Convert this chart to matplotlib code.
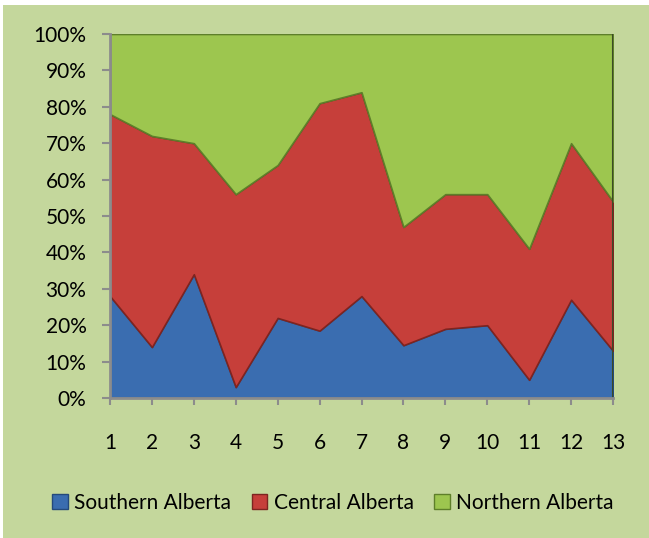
import matplotlib
matplotlib.use("Agg")
import matplotlib.pyplot as plt
import numpy as np
from matplotlib.patches import Patch, Rectangle

plt.rcParams["font.family"] = ["Lato", "DejaVu Sans"]

# share of each region per period, in percent
periods = list(range(1, 14))
southern = [28, 14, 34, 3, 22, 18.5, 28, 14.5, 19, 20, 5, 27, 13]
central = [50, 58, 36, 53, 42, 62.5, 56, 32.5, 37, 36, 36, 43, 41]
northern = [22, 28, 30, 44, 36, 19, 16, 53, 44, 44, 59, 30, 46]
series_names = ["Southern Alberta", "Central Alberta", "Northern Alberta"]

face_colors = ["#3a6db0", "#c63f3a", "#9dc64f"]
edge_colors = ["#244a7c", "#7e2420", "#5e7f2a"]
bg_color = "#c4d79c"

fig = plt.figure(figsize=(6.49, 5.38), dpi=100)
fig.patch.set_facecolor("white")
fig.add_artist(Rectangle((3 / 649, 0), 1, 1 - 5 / 538, transform=fig.transFigure,
                         facecolor=bg_color, edgecolor="none", zorder=0))

ax = fig.add_axes([110 / 649, 1 - 398 / 538, 503 / 649, 364 / 538])
ax.set_facecolor("none")

values = np.array([southern, central, northern], dtype=float)
shares = values / values.sum(axis=0) * 100
bottom = np.zeros(len(periods))
for share, fc, ec in zip(shares, face_colors, edge_colors):
    top = bottom + share
    ax.fill_between(periods, bottom, top, facecolor=fc, edgecolor=ec, linewidth=1.2, zorder=2)
    bottom = top

# dark edge on the right side of the stack
ax.axvline(13, color="#3c4a28", linewidth=1.5, zorder=3)

ax.set_xlim(1, 13)
ax.set_ylim(0, 100)
ax.set_xticks(periods)
ax.set_yticks(range(0, 101, 10))
ax.set_yticklabels([f"{v}%" for v in range(0, 101, 10)])

for side in ["top", "right"]:
    ax.spines[side].set_visible(False)
for side in ["left", "bottom"]:
    ax.spines[side].set_color("#8c8c8c")
    ax.spines[side].set_linewidth(2)
    ax.spines[side].set_zorder(4)

ax.tick_params(axis="y", length=6, width=1.5, color="#8c8c8c", pad=11, labelsize=15)
ax.tick_params(axis="x", length=5, width=1.5, color="#8c8c8c", pad=20, labelsize=15)

handles = [Patch(facecolor=fc, edgecolor=ec, linewidth=1) for fc, ec in zip(face_colors, edge_colors)]
fig.legend(handles, series_names, loc="center", bbox_to_anchor=(0.513, 0.065), ncol=3,
           frameon=False, fontsize=15, handlelength=0.75, handleheight=0.75,
           handletextpad=0.3, columnspacing=1.0)

fig.savefig("out.png", dpi=100, facecolor=fig.get_facecolor())
